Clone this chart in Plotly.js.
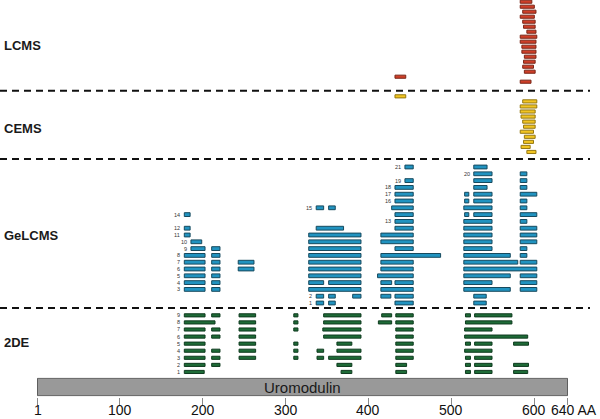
<!DOCTYPE html>
<html><head><meta charset="utf-8">
<script src="https://cdn.plot.ly/plotly-3.0.1.min.js"></script>
<style>html,body{margin:0;padding:0;background:#fff;}#chart{width:600px;height:419px;}</style>
</head><body><div id="chart"></div>
<script>
// ---------------- data (amino-acid positions) ----------------
const proteinName = "Uromodulin";
const proteinStart = 1;
const proteinEnd = 640;
const axisTicks = [1, 100, 200, 300, 400, 500, 600, 640];
const axisTickText = ["1", "100", "200", "300", "400", "500", "600", ""];
const axisEndLabel = "640 AA";
const sectionNames = ["LCMS", "CEMS", "GeLCMS", "2DE"];

// LCMS peptides (row counted from top)
const lcmsRow   = [1, 2, 3, 4, 5, 6, 7, 8, 9, 10, 11, 12, 13, 14, 15, 16, 17];
const lcmsStart = [583, 583, 586, 583, 586, 587, 591, 583, 583, 585, 585, 588, 587, 586, 588, 432, 583];
const lcmsEnd   = [597, 600, 602, 600, 601, 601, 602, 603, 602, 602, 602, 602, 601, 599, 601, 445, 596];

// CEMS peptides (row counted from top)
const cemsRow   = [1, 2, 3, 4, 5, 6, 7, 8, 9, 10, 11, 12];
const cemsStart = [432, 586, 583, 583, 584, 586, 587, 583, 588, 587, 584, 591];
const cemsEnd   = [445, 603, 603, 601, 601, 601, 601, 599, 601, 599, 595, 602];

// GeLCMS peptides (row counted from bottom, 1..21)
const gelRow = [
  21,21, 20,20, 19,19,19, 18,18,18, 17,17,17,17, 16,16,16,16,
  15,15,15,15,15, 14,14,14,14,14, 13,13,13, 12,12,12,12,12,
  11,11,11,11,11, 10,10,10,10,10, 9,9,9,9,9,9, 8,8,8,8,8,8,
  7,7,7,7,7,7,7, 6,6,6,6,6,6, 5,5,5,5,5,5, 4,4,4,4,4,4,4,4,
  3,3,3,3,3,3, 2,2,2,2,2,2, 1,1,1,1];
const gelStart = [
  444,527, 527,583, 444,527,583, 432,527,583, 432,516,527,583, 432,516,527,583,
  337,352,428,515,583, 178,432,516,527,583, 432,515,583, 178,337,432,515,583,
  178,328,415,515,583, 186,328,415,515,583, 186,211,328,432,515,583, 178,211,328,415,515,583,
  178,211,243,328,415,515,583, 178,211,243,328,415,515, 178,211,328,411,515,583, 178,211,328,352,415,432,515,583,
  178,211,328,415,515,583, 337,352,381,415,432,527, 337,352,432,527];
const gelEnd = [
  454,543, 549,591, 454,549,591, 454,543,591, 454,521,549,603, 454,521,549,591,
  346,360,454,549,591, 185,454,521,549,603, 454,549,591, 185,370,454,549,603,
  185,391,454,549,603, 199,391,454,549,603, 203,221,391,454,549,591, 203,221,391,487,571,591,
  203,221,262,391,454,580,603, 203,221,262,391,454,603, 203,221,391,454,571,603, 203,221,346,391,428,454,549,603,
  203,221,391,454,571,603, 346,360,391,427,454,542, 346,360,454,542];
const gelLabelText = ["14","12","11","10","9","8","7","6","5","4","3","15","2","1","21","19","18","17","16","13","20"];
const gelLabelRow  = [14, 12, 11, 10, 9, 8, 7, 6, 5, 4, 3, 15, 2, 1, 21, 19, 18, 17, 16, 13, 20];
const gelLabelAt   = [178,178,178,186,186,178,178,178,178,178,178,337,337,337,444,444,432,432,432,432,527];

// 2DE peptides (row counted from bottom, 1..9)
const deRow = [
  9,9,9,9,9,9,9,9,9, 8,8,8,8,8,8,8, 7,7,7,7,7,7,7, 6,6,6,6,6,6,
  5,5,5,5,5,5,5,5, 4,4,4,4,4,4,4,4, 3,3,3,3,3,3,3,3,3, 2,2,2,2,2,2,2, 1,1,1,1,1,1];
const deStart = [
  178,211,244,310,346,416,433,517,528, 178,244,310,346,412,433,517, 178,211,244,310,345,433,516, 178,211,244,346,433,516,
  178,244,310,362,433,517,528,575, 178,211,244,310,338,362,433,516, 178,211,244,310,338,352,433,517,528,
  178,211,362,433,517,528,575, 178,367,433,517,528,575];
const deEnd = [
  203,221,264,315,391,428,454,523,573, 215,264,315,391,428,454,573, 203,221,264,315,391,454,549, 203,221,264,391,454,592,
  203,264,315,380,454,523,549,593, 203,221,264,315,346,391,454,549, 203,221,264,315,346,391,454,523,549,
  203,221,380,446,523,549,593, 202,380,446,523,549,592];
const deLabelText = ["1","2","3","4","5","6","7","8","9"];
const deLabelRow  = [1, 2, 3, 4, 5, 6, 7, 8, 9];
const deLabelAt   = [178,178,178,178,178,178,178,178,178];

// ---------------- layout helpers (pixel geometry) ----------------
const H = 419, ML = 37, MR = 32, PW = 600 - ML - MR;
const fy = px => 1 - px / H;             // pixel row -> paper fraction
const fx = px => (px - ML) / PW;          // pixel column -> paper fraction
const FONT = "Liberation Sans, Arial, sans-serif";

function bars(starts, ends, rows, yaxis, fill, edge, w) {
  return {
    type: 'bar', orientation: 'h', xaxis: 'x', yaxis: yaxis,
    base: starts, x: ends.map((e, i) => e - starts[i]), y: rows, width: w,
    marker: {color: fill, line: {color: edge, width: 1}},
    hoverinfo: 'skip', showlegend: false
  };
}

const traces = [
  bars(lcmsStart, lcmsEnd, lcmsRow, 'y', '#cf3f29', '#7a2617', 0.62),
  bars(cemsStart, cemsEnd, cemsRow, 'y2', '#f2c522', '#957812', 0.62),
  bars(gelStart, gelEnd, gelRow, 'y3', '#2193c0', '#174a5e', 0.56),
  bars(deStart, deEnd, deRow, 'y4', '#1e6b37', '#0f3b1f', 0.44),
  bars([proteinStart], [proteinEnd], [0], 'y5', '#999999', '#5e5e5e', 1)
];

const hiddenY = (domain, range) => ({
  domain: domain, range: range, autorange: false, showgrid: false, zeroline: false,
  showticklabels: false, ticks: '', showline: false, fixedrange: true
});

const annotations = [];
const secY = [45, 128, 235, 342];
sectionNames.forEach((s, i) => annotations.push({
  xref: 'paper', yref: 'paper', x: fx(2), y: fy(secY[i]), xanchor: 'left', yanchor: 'middle',
  text: '<b>' + s + '</b>', showarrow: false, font: {family: FONT, size: 13, color: '#1a1a1a'}
}));
gelLabelText.forEach((t, i) => annotations.push({
  xref: 'x', yref: 'y3', x: gelLabelAt[i], y: gelLabelRow[i], xanchor: 'right', yanchor: 'middle',
  xshift: -2, text: t, showarrow: false, font: {family: FONT, size: 5.5, color: '#333'}
}));
deLabelText.forEach((t, i) => annotations.push({
  xref: 'x', yref: 'y4', x: deLabelAt[i], y: deLabelRow[i], xanchor: 'right', yanchor: 'middle',
  xshift: -2, text: t, showarrow: false, font: {family: FONT, size: 5.5, color: '#333'}
}));
annotations.push({
  xref: 'x', yref: 'y5', x: (proteinStart + proteinEnd) / 2, y: 0, xanchor: 'center', yanchor: 'middle',
  text: proteinName, showarrow: false, font: {family: FONT, size: 15, color: '#1a1a1a'}
});
// tick labels drawn as annotations at the tick positions (kept inside the picture)
axisTicks.forEach((v, i) => {
  if (!axisTickText[i]) return;
  annotations.push({
    xref: 'x', yref: 'paper', x: v, y: fy(409.6), xanchor: 'center', yanchor: 'middle', borderpad: 0,
    text: axisTickText[i], showarrow: false, font: {family: FONT, size: 14, color: '#111'}
  });
});
annotations.push({
  xref: 'paper', yref: 'paper', x: fx(550), y: fy(409.6), xanchor: 'left', yanchor: 'middle', borderpad: 0,
  text: axisEndLabel, showarrow: false, font: {family: FONT, size: 14, color: '#111'}
});

const shapes = [90.7, 159, 308].map(py => ({
  type: 'line', xref: 'paper', yref: 'paper', x0: fx(0), x1: fx(590), y0: fy(py), y1: fy(py),
  line: {color: '#111', width: 2, dash: '7px,5px'}
}));

const layout = {
  width: 600, height: H, margin: {l: ML, r: MR, t: 0, b: 0, pad: 0},
  paper_bgcolor: '#fff', plot_bgcolor: 'rgba(0,0,0,0)', barmode: 'overlay', showlegend: false,
  xaxis: {
    domain: [0, 1], range: [proteinStart - 0.6, proteinEnd + 0.6], autorange: false, anchor: 'y5',
    showgrid: false, zeroline: false, showline: false,
    tickmode: 'array', tickvals: axisTicks, ticktext: axisTickText, showticklabels: false,
    ticks: 'outside', ticklen: 7, tickwidth: 1, tickcolor: '#8a8a8a', fixedrange: true
  },
  yaxis:  hiddenY([fy(84.2), fy(0)], [17.5, 0.66]),
  yaxis2: hiddenY([fy(154.5), fy(93.8)], [12.5, 0.5]),
  yaxis3: hiddenY([fy(306.4), fy(163.6)], [0.5, 21.5]),
  yaxis4: hiddenY([fy(375.5), fy(311.8)], [0.5, 9.5]),
  yaxis5: hiddenY([fy(396.5), fy(377.5)], [-0.546, 0.546]),
  annotations: annotations,
  shapes: shapes
};

Plotly.newPlot('chart', traces, layout, {displayModeBar: false, staticPlot: true});
</script>
</body></html>
